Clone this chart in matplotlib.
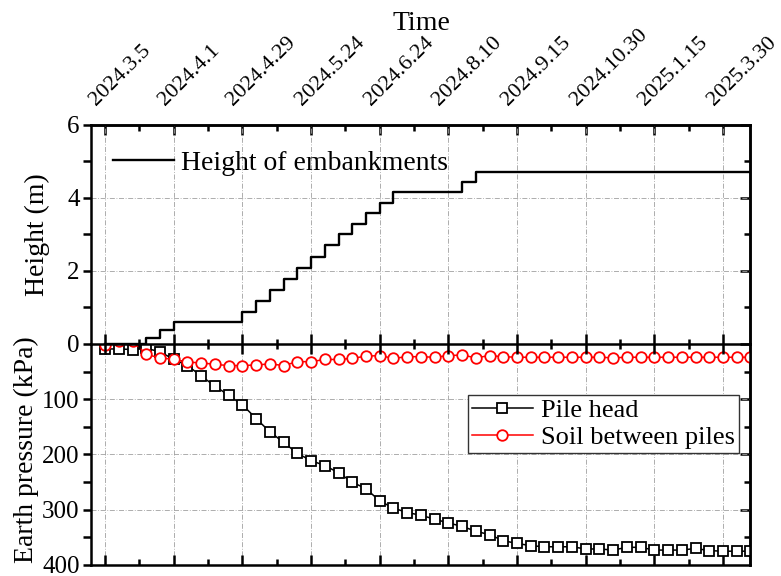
import matplotlib
matplotlib.use("Agg")
import matplotlib.pyplot as plt
from matplotlib.transforms import ScaledTranslation

plt.rcParams["font.family"] = ["Liberation Serif", "DejaVu Serif"]

# data (x = reading number, one reading per step)
date_labels = ["2024.3.5", "2024.4.1", "2024.4.29", "2024.5.24", "2024.6.24",
               "2024.8.10", "2024.9.15", "2024.10.30", "2025.1.15", "2025.3.30"]
date_pos = [0, 5, 10, 15, 20, 25, 30, 35, 40, 45]
idx = list(range(48))

height = [0, 0, 0, 0.16, 0.37, 0.59, 0.59, 0.59, 0.59, 0.59,
          0.87, 1.18, 1.49, 1.79, 2.09, 2.39, 2.70, 3.00, 3.29, 3.59,
          3.87, 4.16, 4.16, 4.16, 4.16, 4.16, 4.44, 4.72, 4.72, 4.72,
          4.72, 4.72, 4.72, 4.72, 4.72, 4.72, 4.72, 4.72, 4.72, 4.72,
          4.72, 4.72, 4.72, 4.72, 4.72, 4.72, 4.72, 4.72]

pile_head = [9, 9, 10, 8, 14, 28, 39, 58, 76, 93,
             110, 135, 159, 178, 198, 211, 220, 233, 250, 262,
             284, 297, 305, 310, 317, 324, 330, 339, 345, 356,
             361, 365, 367, 367, 367, 371, 371, 373, 368, 368,
             373, 373, 373, 370, 374, 375, 375, 375]

soil = [2, -6, -6, 19, 25, 28, 33, 34, 37, 39,
        39, 38, 36, 39, 32, 32, 28, 28, 26, 22,
        21, 26, 23, 23, 24, 21, 20, 25, 21, 23,
        24, 24, 24, 24, 24, 24, 24, 25, 24, 24,
        24, 24, 24, 24, 24, 24, 24, 24]

minor_x = [2.5, 7.5, 12.5, 17.5, 22.5, 27.5, 32.5, 37.5, 42.5]

SPINE_W = 1.8
grid_kw = dict(color="#a0a0a0", linewidth=0.6, linestyle=(0, (6, 2, 1, 2)))

fig = plt.figure(figsize=(7.81, 5.76), dpi=100)
ax1 = fig.add_axes([0.1161, 0.4028, 0.8448, 0.3802])
ax2 = fig.add_axes([0.1161, 0.0191, 0.8448, 0.3837])
ax1.set_zorder(2)

# ---- top panel: embankment height
ax1.plot(idx, height, color="black", lw=1.7, drawstyle="steps-post",
         label="Height of embankments")
ax1.set_xlim(-1.05, 47.0)
ax1.set_ylim(0, 6)
ax1.set_xticks(date_pos)
ax1.set_xticks(minor_x, minor=True)
ax1.set_yticks([0, 2, 4, 6])
ax1.set_yticks([1, 3, 5], minor=True)
ax1.tick_params(axis="x", which="both", direction="inout", bottom=True, top=False,
                labelbottom=False, width=SPINE_W)
ax1.tick_params(axis="x", which="major", length=14)
ax1.tick_params(axis="x", which="minor", length=7)
ax1.tick_params(axis="y", which="both", direction="out", right=False, labelsize=18,
                width=SPINE_W, pad=2)
ax1.tick_params(axis="y", which="major", length=6)
ax1.tick_params(axis="y", which="minor", length=6)
ax1.grid(True, which="major", **grid_kw)
for s in ax1.spines.values():
    s.set_linewidth(SPINE_W)
ax1.set_ylabel("Height (m)", fontsize=20)
ax1.yaxis.set_label_coords(-0.062, 0.5)

top = ax1.secondary_xaxis("top")
top.set_xticks(date_pos)
top.set_xticklabels(date_labels)
top.set_xticks(minor_x, minor=True)
top.tick_params(which="both", direction="in", width=SPINE_W, labelsize=16, pad=0)
top.tick_params(which="major", length=7)
top.tick_params(which="minor", length=4)
top.spines["top"].set_linewidth(SPINE_W)
shift = ScaledTranslation(-0.09, 0.19, fig.dpi_scale_trans)
for lab in top.get_xticklabels():
    lab.set_rotation(45)
    lab.set_rotation_mode("anchor")
    lab.set_ha("left")
    lab.set_va("baseline")
    lab.set_transform(lab.get_transform() + shift)

right1 = ax1.secondary_yaxis("right")
right1.set_yticks([0, 2, 4, 6])
right1.set_yticks([1, 3, 5], minor=True)
right1.tick_params(which="both", direction="in", labelright=False, width=SPINE_W)
right1.tick_params(which="major", length=7)
right1.tick_params(which="minor", length=4)
right1.spines["right"].set_linewidth(SPINE_W)

ax1.legend(loc="center left", bbox_to_anchor=(0.034, 0.826), frameon=False,
           fontsize=20, borderpad=0, borderaxespad=0, handlelength=2.2,
           handletextpad=0.25)

fig.text(0.540, 0.960, "Time", fontsize=20, ha="center", va="center")

# ---- bottom panel: earth pressure
ax2.plot(idx, pile_head, color="black", lw=1.1, marker="s", markersize=6.8,
         markerfacecolor="white", markeredgecolor="black", markeredgewidth=1.3,
         label="Pile head")
ax2.plot(idx, soil, color="red", lw=1.1, marker="o", markersize=7.6,
         markerfacecolor="white", markeredgecolor="red", markeredgewidth=1.3,
         label="Soil between piles")
ax2.set_xlim(-1.05, 47.0)
ax2.set_ylim(400, 0)
ax2.set_xticks(date_pos)
ax2.set_xticks(minor_x, minor=True)
ax2.set_yticks([100, 200, 300, 400])
ax2.set_yticks([50, 150, 250, 350], minor=True)
ax2.tick_params(axis="x", which="both", direction="in", bottom=True, top=False,
                labelbottom=False, width=SPINE_W)
ax2.tick_params(axis="x", which="major", length=7)
ax2.tick_params(axis="x", which="minor", length=4)
ax2.tick_params(axis="y", which="both", direction="out", right=False, labelsize=18,
                width=SPINE_W, pad=2)
ax2.tick_params(axis="y", which="major", length=6)
ax2.tick_params(axis="y", which="minor", length=6)
ax2.grid(True, which="major", **grid_kw)
for s in ax2.spines.values():
    s.set_linewidth(SPINE_W)
ax2.spines["top"].set_visible(False)
ax2.set_ylabel("Earth pressure (kPa)", fontsize=20)
ax2.yaxis.set_label_coords(-0.078, 0.52)

right2 = ax2.secondary_yaxis("right")
right2.set_yticks([100, 200, 300])
right2.set_yticks([50, 150, 250, 350], minor=True)
right2.tick_params(which="both", direction="in", labelright=False, width=SPINE_W)
right2.tick_params(which="major", length=7)
right2.tick_params(which="minor", length=4)
right2.spines["right"].set_linewidth(SPINE_W)

leg = ax2.legend(loc="upper left", bbox_to_anchor=(0.572, 0.769), fontsize=19,
                 fancybox=False, framealpha=1, edgecolor="#333333",
                 borderpad=0.15, borderaxespad=0, handlelength=2.3,
                 handletextpad=0.3, labelspacing=0.12)
leg.get_frame().set_linewidth(1.0)

fig.savefig("out.png", dpi=100)
